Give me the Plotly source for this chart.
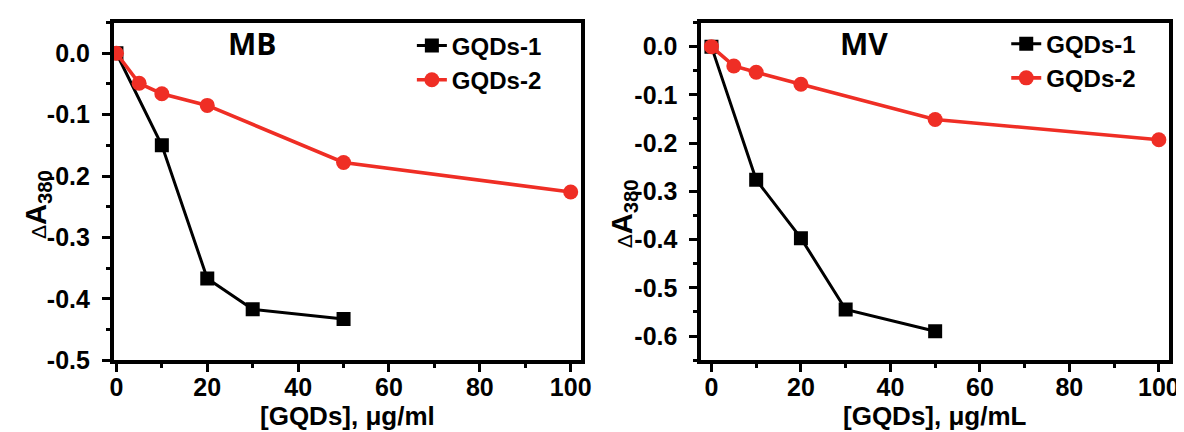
import plotly.graph_objects as go

# ---- data ----
mb_x1 = [0, 10, 20, 30, 50]
mb_y1 = [0, -0.150, -0.367, -0.417, -0.433]
mb_x2 = [0, 5, 10, 20, 50, 100]
mb_y2 = [0, -0.049, -0.066, -0.085, -0.178, -0.226]

mv_x1 = [0, 10, 20, 30, 50]
mv_y1 = [0, -0.276, -0.397, -0.545, -0.590]
mv_x2 = [0, 5, 10, 20, 50, 100]
mv_y2 = [0, -0.040, -0.053, -0.078, -0.151, -0.193]

series_names = ["GQDs-1", "GQDs-2"]
panel_titles = ["MB", "MV"]
x_titles = ["[GQDs], μg/ml", "[GQDs], μg/mL"]
y_title = "<span style='font-size:21px;font-weight:normal'>Δ</span>A<sub>380</sub>"
x_ticks = [0, 20, 40, 60, 80, 100]
mb_y_ticks = [0.0, -0.1, -0.2, -0.3, -0.4, -0.5]
mv_y_ticks = [0.0, -0.1, -0.2, -0.3, -0.4, -0.5, -0.6]

BLACK = "#000000"
RED = "#ef2e25"
W, H = 1184, 432
FONT = "Liberation Sans, Arial, sans-serif"

fig = go.Figure()

def add_pair(x1, y1, x2, y2, xa, ya, legend):
    fig.add_trace(go.Scatter(x=x1, y=y1, name=series_names[0], mode="lines+markers",
                             line=dict(color=BLACK, width=3),
                             marker=dict(symbol="square", size=14, color=BLACK),
                             xaxis=xa, yaxis=ya, legend=legend))
    fig.add_trace(go.Scatter(x=x2, y=y2, name=series_names[1], mode="lines+markers",
                             line=dict(color=RED, width=3.6),
                             marker=dict(symbol="circle", size=15, color=RED),
                             xaxis=xa, yaxis=ya, legend=legend))

add_pair(mb_x1, mb_y1, mb_x2, mb_y2, "x", "y", "legend")
add_pair(mv_x1, mv_y1, mv_x2, mv_y2, "x2", "y2", "legend2")

tickfont = dict(family=FONT, size=25, color=BLACK, weight="bold")

def xaxis_cfg(domain, rng):
    return dict(domain=domain, range=rng, tickvals=x_ticks, ticks="outside",
                ticklen=8, tickwidth=3, tickcolor=BLACK, showline=True, linewidth=3.5,
                linecolor=BLACK, mirror=True, showgrid=False, zeroline=False,
                tickfont=tickfont, ticklabelstandoff=-6,
                minor=dict(dtick=10, tick0=0, ticks="outside", ticklen=4, tickwidth=3,
                           tickcolor=BLACK, showgrid=False))

def yaxis_cfg(domain, rng, tv, anchor):
    return dict(domain=domain, range=rng, tickvals=tv, ticktext=[f"{v:.1f}" for v in tv],
                ticks="outside", ticklen=8, tickwidth=3, tickcolor=BLACK, showline=True,
                linewidth=3.5, linecolor=BLACK, mirror=True, showgrid=False, zeroline=False,
                tickfont=tickfont, anchor=anchor, ticklabelstandoff=7,
                minor=dict(dtick=0.05, tick0=0, ticks="outside", ticklen=4, tickwidth=3,
                           tickcolor=BLACK, showgrid=False))

ydom = [(432 - 364) / H, (432 - 15) / H]
legfont = dict(family=FONT, size=24, color=BLACK, weight="bold")
fig.update_layout(
    width=W, height=H, margin=dict(l=0, r=0, t=0, b=0),
    paper_bgcolor="white", plot_bgcolor="white",
    xaxis=xaxis_cfg([103 / W, 576 / W], [-0.6, 102.2]),
    yaxis=yaxis_cfg(ydom, [-0.5, 0.05], mb_y_ticks, "x"),
    xaxis2=dict(xaxis_cfg([698 / W, 1172 / W], [-2.3, 102.3]), anchor="y2"),
    yaxis2=yaxis_cfg(ydom, [-0.65, 0.05], mv_y_ticks, "x2"),
    legend=dict(x=405 / W, y=1 - 16 / H, xanchor="left", yanchor="top",
                bgcolor="rgba(0,0,0,0)", font=legfont),
    legend2=dict(x=1007 / W, y=1 - 14 / H, xanchor="left", yanchor="top",
                 bgcolor="rgba(0,0,0,0)", font=legfont),
    showlegend=True,
)

ann_font = dict(family=FONT, size=26, color=BLACK, weight="bold")
ytitle_font = dict(family=FONT, size=29, color=BLACK, weight="bold")
title_font = dict(family="Open Sans, Liberation Sans, sans-serif", size=30, color=BLACK, weight="bold")
annotations = [
    dict(text=panel_titles[0], x=243 / W, y=1 - 37 / H, xref="paper", yref="paper",
         showarrow=False, font=title_font, xanchor="center", yanchor="middle"),
    dict(text=panel_titles[1], x=863 / W, y=1 - 37 / H, xref="paper", yref="paper",
         showarrow=False, font=title_font, xanchor="center", yanchor="middle"),
    dict(text=x_titles[0], x=340 / W, y=1 - 422 / H, xref="paper", yref="paper",
         showarrow=False, font=ann_font, xanchor="center", yanchor="middle"),
    dict(text=x_titles[1], x=935 / W, y=1 - 422 / H, xref="paper", yref="paper",
         showarrow=False, font=ann_font, xanchor="center", yanchor="middle"),
    dict(text=y_title, x=27 / W, y=1 - 203 / H, xref="paper", yref="paper", textangle=-90,
         showarrow=False, font=ytitle_font, xanchor="center", yanchor="middle"),
    dict(text=y_title, x=620 / W, y=1 - 213 / H, xref="paper", yref="paper", textangle=-90,
         showarrow=False, font=ytitle_font, xanchor="center", yanchor="middle"),
]
fig.update_layout(annotations=annotations)

fig.write_html("out.html")
